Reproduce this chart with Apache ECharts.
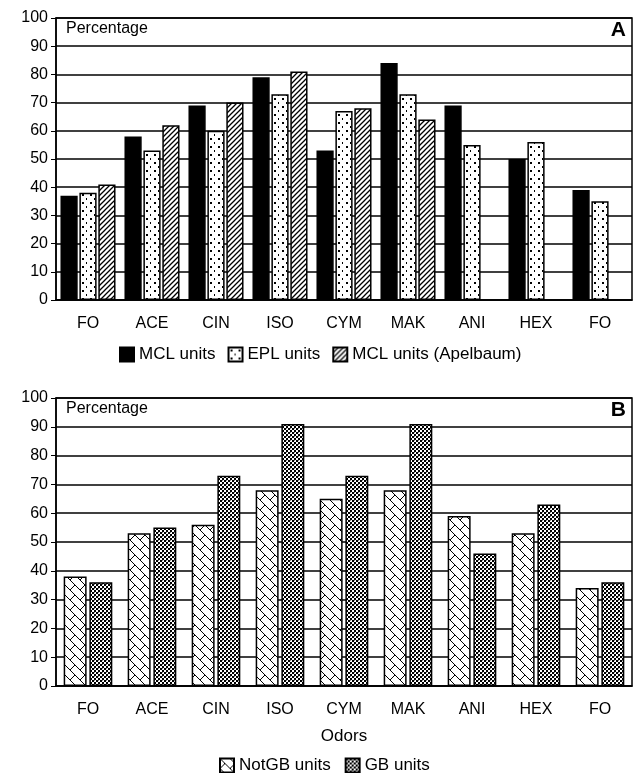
<!DOCTYPE html>
<html><head><meta charset="utf-8">
<script src="https://cdn.jsdelivr.net/npm/echarts@6/dist/echarts.min.js"></script>
<style>html,body{margin:0;padding:0;background:#fff}#chart{width:638px;height:773px}</style>
</head><body><div id="chart"></div>
<script>
const odors = ["FO", "ACE", "CIN", "ISO", "CYM", "MAK", "ANI", "HEX", "FO"];
const mclUnits = [37, 58, 69, 79, 53, 84, 69, 50, 39];
const eplUnits = [38, 53, 60, 73, 67, 73, 55, 56, 35];
const mclApelbaum = [41, 62, 70, 81, 68, 64, null, null, null];
const notGbUnits = [38, 53, 56, 68, 65, 68, 59, 53, 34];
const gbUnits = [36, 55, 73, 91, 73, 91, 46, 63, 36];

// little canvas tiles for the hatch fills
const tile = (size, draw) => {
    const c = document.createElement("canvas");
    c.width = c.height = size;
    const g = c.getContext("2d");
    g.fillStyle = "#fff";
    g.fillRect(0, 0, size, size);
    g.strokeStyle = "#000";
    g.fillStyle = "#000";
    draw(g);
    return { image: c, repeat: "repeat" };
};
const dots = tile(8, (g) => { g.fillRect(2, 2, 2, 2); g.fillRect(6, 6, 1, 2); });
const diag = tile(5, (g) => {
    g.lineWidth = 1.3;
    g.beginPath(); g.moveTo(0, 5); g.lineTo(5, 0); g.moveTo(-1, 1); g.lineTo(1, -1); g.moveTo(4, 6); g.lineTo(6, 4); g.stroke();
});
const weave = tile(10, (g) => {
    g.lineWidth = 1;
    g.beginPath();
    g.moveTo(0, 0); g.lineTo(10, 10);
    g.moveTo(0, 10); g.lineTo(5, 5);
    g.stroke();
});
const check = tile(4, (g) => { g.fillRect(0, 0, 2, 2); g.fillRect(2, 2, 2, 2); g.fillStyle = "#888"; g.fillRect(2, 0, 1, 1); });

const font = "Liberation Sans";
const grids = [
    { left: 56, right: 6, top: 18, height: 282 },
    { left: 56, right: 6, top: 398, height: 288 },
];
const xAxis = grids.map((_, i) => ({
    type: "category", gridIndex: i, data: odors,
    axisLine: { lineStyle: { color: "#000", width: 1.5 } },
    axisTick: { lineStyle: { color: "#000" }, length: 5 },
    axisLabel: { color: "#000", fontSize: 16, fontFamily: font, margin: 16 },
    name: i === 1 ? "Odors" : "", nameLocation: "middle", nameGap: 42,
    nameTextStyle: { color: "#000", fontSize: 17, fontFamily: font },
}));
const yAxis = grids.map((_, i) => ({
    type: "value", gridIndex: i, min: 0, max: 100, interval: 10,
    axisLine: { show: true, lineStyle: { color: "#000", width: 1.5 } },
    axisTick: { show: true, lineStyle: { color: "#000" }, length: 5 },
    axisLabel: { color: "#000", fontSize: 16, fontFamily: font },
    splitLine: { lineStyle: { color: "#000", width: 1.5 } },
}));
const bar = (name, data, color, i, extra) => Object.assign({
    name, type: "bar", data, xAxisIndex: i, yAxisIndex: i,
    itemStyle: { color, borderColor: "#000", borderWidth: 1.5 },
}, extra);

const legendText = { color: "#000", fontSize: 17, fontFamily: font };
const myChart = echarts.init(document.getElementById("chart"));
myChart.setOption({
    animation: false,
    grid: grids.map((g) => Object.assign({ borderColor: "#000", borderWidth: 1.5, show: true }, g)),
    xAxis, yAxis,
    legend: [
        { data: ["MCL units", "EPL units", "MCL units (Apelbaum)"], top: 341, left: 114,
          icon: "rect", itemWidth: 14, itemHeight: 14, itemGap: 12, textStyle: legendText },
        { data: ["NotGB units", "GB units"], top: 752, left: 214,
          icon: "rect", itemWidth: 14, itemHeight: 14, itemGap: 14, textStyle: legendText },
    ],
    series: [
        bar("MCL units", mclUnits, "#000", 0, { barGap: "10%", barCategoryGap: "14%" }),
        bar("EPL units", eplUnits, dots, 0),
        bar("MCL units (Apelbaum)", mclApelbaum, diag, 0),
        bar("NotGB units", notGbUnits, weave, 1, { barGap: "12%", barCategoryGap: "24%" }),
        bar("GB units", gbUnits, check, 1),
    ],
    graphic: [
        { type: "text", left: 63, top: 20, z: 10, style: { text: "Percentage", fill: "#000", font: "16px " + font, backgroundColor: "#fff", padding: [1, 3] } },
        { type: "text", right: 12, top: 20, z: 10, style: { text: "A", fill: "#000", font: "bold 21px " + font, backgroundColor: "#fff" } },
        { type: "text", left: 63, top: 400, z: 10, style: { text: "Percentage", fill: "#000", font: "16px " + font, backgroundColor: "#fff", padding: [1, 3] } },
        { type: "text", right: 12, top: 400, z: 10, style: { text: "B", fill: "#000", font: "bold 21px " + font, backgroundColor: "#fff" } },
    ],
});
</script></body></html>
